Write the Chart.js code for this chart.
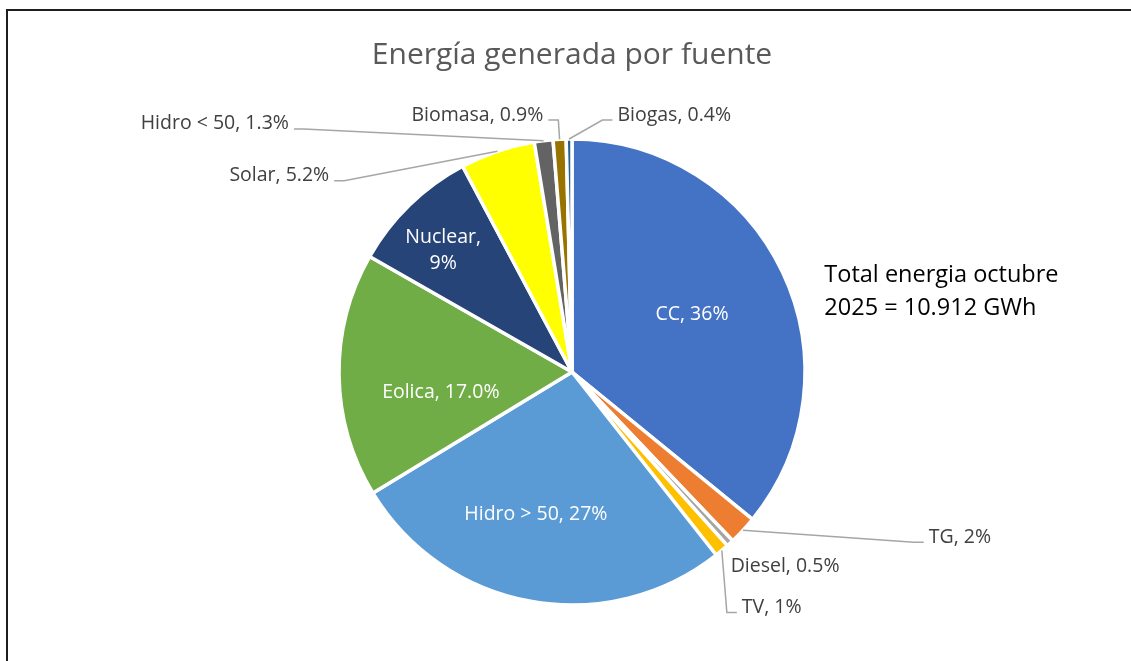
<!DOCTYPE html>
<html><head><meta charset="utf-8">
<script src="https://cdn.jsdelivr.net/npm/chart.js@4.4.1/dist/chart.umd.min.js"></script>
<style>
html,body{margin:0;padding:0;background:#fff;overflow:hidden;}
#wrap{position:relative;width:1131px;height:661px;}
#frame{position:absolute;left:6px;top:9px;width:1300px;height:900px;border:2px solid #1e1e1e;box-sizing:border-box;pointer-events:none;}
canvas{position:absolute;left:0;top:0;}
</style></head><body>
<div id="wrap"><canvas id="c" width="1131" height="661"></canvas><div id="frame"></div></div>
<script>
// ---- data ----
const chartTitle = 'Energía generada por fuente';
const categories = ['CC', 'TG', 'Diesel', 'TV', 'Hidro > 50', 'Eolica', 'Nuclear', 'Solar', 'Hidro < 50', 'Biomasa', 'Biogas'];
const shares = [36, 2, 0.5, 1, 27, 17.0, 9, 5.2, 1.3, 0.9, 0.4];
const shareText = ['36%', '2%', '0.5%', '1%', '27%', '17.0%', '9%', '5.2%', '1.3%', '0.9%', '0.4%'];
const totalNote = ['Total energia octubre', '2025 = 10.912 GWh'];

// ---- styles ----
const sliceColors = ['#4472C4', '#ED7D31', '#A5A5A5', '#FFC000', '#5B9BD5', '#70AD47', '#264478', '#FFFF00', '#636363', '#997300', '#255E91'];
const FONT = '"Open Sans", "DejaVu Sans", sans-serif';

// label placement in units of pie radius relative to the pie centre
// (dx = text anchor x, dy = first baseline y)
const labelPlacement = [
  {dx: 0.515, dy: -0.225, align: 'center', inside: true},
  {dx: 1.531, dy: 0.733, align: 'left', leader: true},
  {dx: 0.681, dy: 0.858, align: 'left'},
  {dx: 0.729, dy: 1.034, align: 'left', leader: true},
  {dx: -0.155, dy: 0.636, align: 'center', inside: true},
  {dx: -0.563, dy: 0.113, align: 'center', inside: true},
  {dx: -0.553, dy: -0.553, align: 'center', inside: true, split: true},
  {dx: -1.042, dy: -0.819, align: 'right', leader: true},
  {dx: -1.215, dy: -1.041, align: 'right', leader: true},
  {dx: -0.123, dy: -1.079, align: 'right', leader: true},
  {dx: 0.195, dy: -1.079, align: 'left', leader: true}
];

const labelPlugin = {
  id: 'pieLabels',
  afterDatasetsDraw(chart) {
    const ctx = chart.ctx;
    const meta = chart.getDatasetMeta(0);
    const arcs = meta.data;
    if (!arcs.length) return;
    const p0 = arcs[0].getProps(['x', 'y', 'outerRadius'], true);
    const cx = p0.x, cy = p0.y, R = p0.outerRadius;
    ctx.save();
    // title
    ctx.font = '30px ' + FONT;
    ctx.fillStyle = '#595959';
    ctx.textAlign = 'center';
    ctx.textBaseline = 'alphabetic';
    ctx.fillText(chartTitle, cx, 63.5);
    // total note
    ctx.font = '23.5px ' + FONT;
    ctx.fillStyle = '#000000';
    ctx.textAlign = 'left';
    ctx.fillText(totalNote[0], cx + 1.083 * R, cy - 0.388 * R);
    ctx.fillText(totalNote[1], cx + 1.083 * R, cy - 0.388 * R + 33);

    ctx.font = '19.5px ' + FONT;
    arcs.forEach((arc, i) => {
      const pl = labelPlacement[i];
      const p = arc.getProps(['startAngle', 'endAngle'], true);
      const mid = (p.startAngle + p.endAngle) / 2;
      const ax = cx + Math.cos(mid) * R;
      const ay = cy + Math.sin(mid) * R;
      const tx = cx + pl.dx * R;
      const ty = cy + pl.dy * R;
      const lines = pl.split ? [categories[i] + ',', shareText[i]] : [categories[i] + ', ' + shareText[i]];
      ctx.fillStyle = pl.inside ? '#FFFFFF' : '#404040';
      ctx.textAlign = pl.align;
      lines.forEach((ln, k) => ctx.fillText(ln, tx, ty + k * 25.7));
      if (pl.leader) {
        let lx, dir;
        if (pl.align === 'right') { lx = tx + 5; dir = 1; }
        else { lx = tx - 5; dir = -1; }
        const ly = ty - 0.5;
        ctx.beginPath();
        ctx.strokeStyle = '#A6A6A6';
        ctx.lineWidth = 1.5;
        ctx.moveTo(lx, ly);
        ctx.lineTo(lx + dir * 10, ly);
        ctx.lineTo(ax, ay);
        ctx.stroke();
      }
    });
    ctx.restore();
  }
};

new Chart(document.getElementById('c'), {
  type: 'pie',
  data: {
    labels: categories,
    datasets: [{
      data: shares,
      backgroundColor: sliceColors,
      borderColor: '#FFFFFF',
      borderWidth: 3.5,
      radius: 233
    }]
  },
  options: {
    responsive: false,
    animation: false,
    layout: {padding: {top: 139, bottom: 56, left: 13, right: 0}},
    plugins: {
      legend: {display: false},
      tooltip: {enabled: false},
      title: {display: false}
    }
  },
  plugins: [labelPlugin]
});
</script>
</body></html>
